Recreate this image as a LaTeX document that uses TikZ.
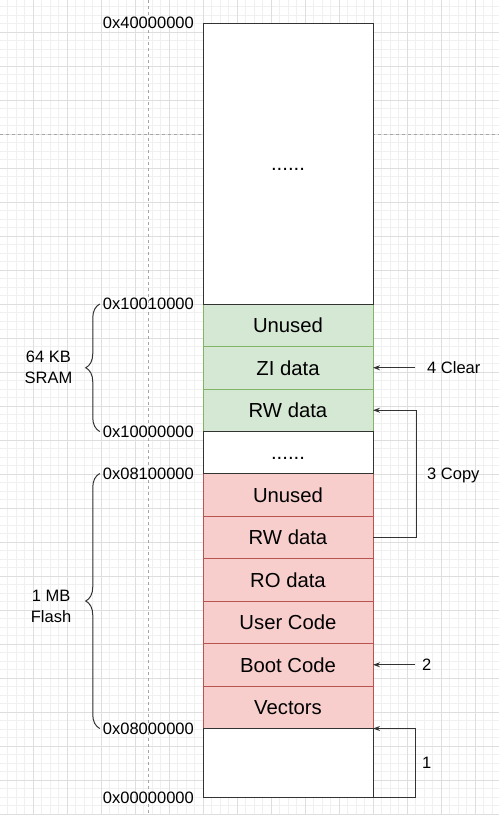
\documentclass[tikz,border=0pt]{standalone}
\usepackage{fontspec}
\setmainfont{Liberation Sans}
\usetikzlibrary{positioning,arrows.meta,decorations.pathreplacing}

\definecolor{sramfill}{HTML}{D5E8D4}
\definecolor{sramline}{HTML}{82B366}
\definecolor{flashfill}{HTML}{F8CECC}
\definecolor{flashline}{HTML}{B85450}
\definecolor{wallline}{HTML}{333333}

\begin{document}
\begin{tikzpicture}[x=1pt, y=-1pt,
    block/.style={draw=wallline, line width=1pt, minimum width=170pt, inner sep=0pt, outer sep=0pt,
        font=\fontsize{20.3}{24}\selectfont, text height=14.5pt, text depth=0pt},
    sram/.style={block, fill=sramfill, draw=sramline, minimum height=42.5pt},
    flash/.style={block, fill=flashfill, draw=flashline, minimum height=42.5pt},
    spare/.style={block, fill=white},
    addr/.style={font=\fontsize{16.5}{20}\selectfont, inner sep=0pt, text height=11.8pt, text depth=0pt},
    sizelabel/.style={font=\fontsize{16.5}{21}\selectfont, inner sep=0pt, align=center},
    flow/.style={draw=wallline, line width=1pt, -{Stealth[length=7pt,width=5pt]}},
    membrace/.style={draw=wallline, line width=1pt, decorate, decoration={brace, amplitude=14pt}},
    gridminor/.style={draw=black!6, line width=0.6pt},
    gridmajor/.style={draw=black!13, line width=0.7pt},
    pageline/.style={draw=black!35, line width=0.7pt, dash pattern=on 3pt off 3pt}]

\useasboundingbox (0,0) rectangle (499,815);
\fill[white] (0,0) rectangle (499,815);

% background grid
\foreach \gx in {0,...,59} \draw[gridminor] ({-1+8.5*\gx},0) -- ++(0,815);
\foreach \gy in {0,...,95} \draw[gridminor] (0,{6.5+8.5*\gy}) -- ++(499,0);
\foreach \gx in {0,...,14} \draw[gridmajor] ({-1+34*\gx},0) -- ++(0,815);
\foreach \gy in {0,...,24} \draw[gridmajor] (0,{-2+34*\gy}) -- ++(499,0);
\draw[pageline] (148,0) -- (148,815);
\draw[pageline] (0,134) -- (499,134);

% memory map
\node[spare, minimum height=281pt] (top) at (288,163.5) {......};
\node[sram, below=0pt of top] (sramUnused) {Unused};
\node[sram, below=0pt of sramUnused] (zi) {ZI data};
\node[sram, below=0pt of zi] (rwSram) {RW data};
\node[spare, minimum height=42pt, below=0pt of rwSram] (gap) {......};
\node[flash, below=0pt of gap] (flashUnused) {Unused};
\node[flash, below=0pt of flashUnused] (rwFlash) {RW data};
\node[flash, below=0pt of rwFlash] (ro) {RO data};
\node[flash, below=0pt of ro] (user) {User Code};
\node[flash, below=0pt of user] (boot) {Boot Code};
\node[flash, below=0pt of boot] (vectors) {Vectors};
\node[spare, minimum height=69pt, below=0pt of vectors] (base) {};
\foreach \n in {top,gap,base} \draw[draw=wallline, line width=1pt] (\n.north west) rectangle (\n.south east);

% addresses
\node[addr, left=9pt of top.north west] (addrTop) {0x40000000};
\node[addr, left=9pt of sramUnused.north west] (addrSramHi) {0x10010000};
\node[addr, left=9pt of rwSram.south west] (addrSramLo) {0x10000000};
\node[addr, left=9pt of flashUnused.north west] (addrFlashHi) {0x08100000};
\node[addr, left=9pt of vectors.south west] (addrFlashLo) {0x08000000};
\node[addr, left=9pt of base.south west] (addrZero) {0x00000000};

% braces
\draw[membrace] ([xshift=-3pt]addrSramLo.west) -- node[sizelabel, midway, left=27pt] (sramLbl) {64 KB\\SRAM} ([xshift=-3pt]addrSramHi.west);
\draw[membrace] ([xshift=-3pt]addrFlashLo.west) -- node[sizelabel, midway, left=28pt, yshift=-5pt] (flashLbl) {1 MB\\Flash} ([xshift=-3pt]addrFlashHi.west);

% boot steps
\node[addr, right=49pt of base] (startLbl) {1};
\draw[flow] (base.south east) -- ++(42,0) |- (vectors.south east);
\node[addr, right=49pt of boot] (bootLbl) {2};
\draw[flow] ([xshift=42pt]boot.east) -- (boot.east);
\node[addr, right=54pt of gap.south east] (copyLbl) {3 Copy};
\draw[flow] (rwFlash.east) -- ++(43,0) |- (rwSram.east);
\node[addr, right=54pt of zi] (clearLbl) {4 Clear};
\draw[flow] ([xshift=42pt]zi.east) -- (zi.east);
\end{tikzpicture}
\end{document}
